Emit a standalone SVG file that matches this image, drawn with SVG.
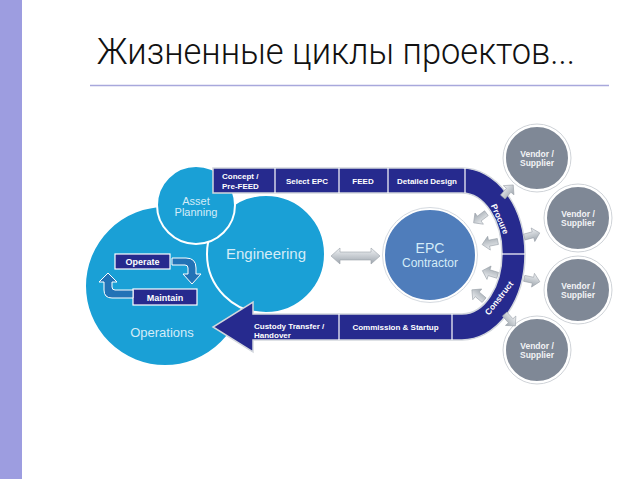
<svg xmlns="http://www.w3.org/2000/svg" width="638" height="479" viewBox="0 0 638 479">
<defs>
<style>
.lbl{font-family:"Liberation Sans",Arial,sans-serif;font-weight:bold;font-size:8px;fill:#ffffff}
.big{font-size:9px}
.arc{font-size:8.5px}
.ctxt{font-family:"Liberation Sans",Arial,sans-serif;fill:#d4ecf8;text-anchor:middle}
.vtxt{font-family:"Liberation Sans",Arial,sans-serif;font-weight:bold;font-size:8.5px;fill:#f2f3f5;text-anchor:middle}
.cyan{fill:#1aa0d6;stroke:#ffffff;stroke-width:2}
.vend{fill:#7f8896;stroke:#ffffff;stroke-width:2}
.vring{fill:none;stroke:#cfd3d8;stroke-width:1}
.div{stroke:#ffffff;stroke-width:1.2}
.box{fill:#262a8e;stroke:#ffffff;stroke-width:1.2}
.barrow{fill:#2272b6;stroke:#ffffff;stroke-width:1}
.sarrow{fill:url(#gg);stroke:#9aa1a9;stroke-width:0.6}
</style>
<linearGradient id="gg" x1="0" y1="0" x2="0" y2="1">
<stop offset="0" stop-color="#f1f3f5"/>
<stop offset="1" stop-color="#9ea6ae"/>
</linearGradient>
<path id="sa" d="M -8,-3 L 1,-3 L 1,-7 L 8,0 L 1,7 L 1,3 L -8,3 Z"/>
</defs>
<rect x="0" y="0" width="638" height="479" fill="#ffffff"/>
<rect x="0" y="0" width="22" height="479" fill="#9d9de0"/>
<text x="97" y="64" font-family="Roboto,'Liberation Sans',sans-serif" font-weight="300" font-size="37" fill="#111111" textLength="478" lengthAdjust="spacingAndGlyphs">Жизненные циклы проектов...</text>
<line x1="90" y1="85.5" x2="609" y2="85.5" stroke="#a8a8dc" stroke-width="1.5"/>

<g id="operations">
<circle class="cyan" cx="165" cy="286" r="80"/>
<text class="ctxt" x="162" y="337" font-size="13">Operations</text>
</g>
<g id="engineering">
<circle class="cyan" cx="266" cy="254" r="59"/>
<text class="ctxt" x="266" y="259" font-size="15">Engineering</text>
</g>
<g id="asset-planning">
<circle class="cyan" cx="196" cy="205" r="39"/>
<text class="ctxt" x="196" y="205" font-size="11">Asset</text>
<text class="ctxt" x="196" y="216" font-size="11">Planning</text>
</g>
<g id="operate">
<rect class="box" x="115" y="254" width="55" height="15"/>
<text class="lbl big" x="142.5" y="265" text-anchor="middle">Operate</text>
</g>
<g id="maintain">
<rect class="box" x="133" y="289" width="64" height="16"/>
<text class="lbl big" x="165" y="300.5" text-anchor="middle">Maintain</text>
</g>
<g id="epc-contractor">
<circle cx="430" cy="255" r="46" fill="#4f7dbb" stroke="#ffffff" stroke-width="2"/>
<circle cx="430" cy="255" r="47.5" fill="none" stroke="#d5dae0" stroke-width="1"/>
<text class="ctxt" x="430" y="253" font-size="14">EPC</text>
<text class="ctxt" x="430" y="267" font-size="12">Contractor</text>
</g>

<g id="lifecycle-band">
<path d="M 213,168 L 462,168 A 63,86 0 0 1 462,340 L 253,340 L 253,352 L 213,327 L 253,302 L 253,314 L 462,314 A 40,60.5 0 0 0 462,193 L 213,193 Z" fill="#262a8e" stroke="#d3d7dd" stroke-width="1.5"/>
<line class="div" x1="275" y1="168" x2="275" y2="193"/>
<line class="div" x1="339" y1="168" x2="339" y2="193"/>
<line class="div" x1="388" y1="168" x2="388" y2="193"/>
<line class="div" x1="465" y1="168" x2="465" y2="193"/>
<line class="div" x1="339" y1="314" x2="339" y2="340"/>
<line class="div" x1="452" y1="314" x2="452" y2="340"/>
<line class="div" x1="502" y1="254" x2="525" y2="254"/>
<text class="lbl" x="222" y="179">Concept /</text>
<text class="lbl" x="222" y="188.5">Pre-FEED</text>
<text class="lbl" x="307" y="183.5" text-anchor="middle">Select EPC</text>
<text class="lbl" x="363" y="183.5" text-anchor="middle">FEED</text>
<text class="lbl" x="427" y="183.5" text-anchor="middle">Detailed Design</text>
<text class="lbl" x="254" y="328.5">Custody Transfer /</text>
<text class="lbl" x="254" y="337.5">Handover</text>
<text class="lbl" x="395.5" y="330" text-anchor="middle">Commission &amp; Startup</text>
<text class="lbl arc" x="0" y="0" text-anchor="middle" transform="translate(500,219) rotate(66)" dy="3">Procure</text>
<text class="lbl arc" x="0" y="0" text-anchor="middle" transform="translate(499,298) rotate(-52)" dy="3">Construct</text>
</g>

<g id="vendor-1">
<circle class="vring" cx="537" cy="158" r="34"/>
<circle class="vend" cx="537" cy="158" r="32"/>
<text class="vtxt" x="537" y="157">Vendor /</text>
<text class="vtxt" x="537" y="166">Supplier</text>
</g>
<g id="vendor-2">
<circle class="vring" cx="578" cy="218" r="34"/>
<circle class="vend" cx="578" cy="218" r="32"/>
<text class="vtxt" x="578" y="217">Vendor /</text>
<text class="vtxt" x="578" y="226">Supplier</text>
</g>
<g id="vendor-3">
<circle class="vring" cx="578" cy="290" r="34"/>
<circle class="vend" cx="578" cy="290" r="32"/>
<text class="vtxt" x="578" y="289">Vendor /</text>
<text class="vtxt" x="578" y="298">Supplier</text>
</g>
<g id="vendor-4">
<circle class="vring" cx="537" cy="350" r="34"/>
<circle class="vend" cx="537" cy="350" r="32"/>
<text class="vtxt" x="537" y="349">Vendor /</text>
<text class="vtxt" x="537" y="358">Supplier</text>
</g>

<g id="connectors">
<path class="barrow" d="M 172,258 L 186,258 Q 196,258 196,268 L 196,274 L 201,274 L 192,284 L 183,274 L 188,274 L 188,268 Q 188,265 185,265 L 172,265 Z"/>
<path class="barrow" d="M 133,290 L 115,290 Q 112,290 112,287 L 112,282 L 117,282 L 108,273 L 99,282 L 104,282 L 104,290 Q 104,298 112,298 L 133,298 Z"/>
<path class="sarrow" d="M 331,256 L 340,248 L 340,252 L 371,252 L 371,248 L 380,256 L 371,264 L 371,260 L 340,260 L 340,264 Z"/>
<use href="#sa" class="sarrow" transform="translate(480,218) rotate(143)"/>
<use href="#sa" class="sarrow" transform="translate(490,243) rotate(169)"/>
<use href="#sa" class="sarrow" transform="translate(490,273) rotate(197)"/>
<use href="#sa" class="sarrow" transform="translate(478,295) rotate(220)"/>
<use href="#sa" class="sarrow" transform="translate(508,191) rotate(-49)"/>
<use href="#sa" class="sarrow" transform="translate(532,235) rotate(-15)"/>
<use href="#sa" class="sarrow" transform="translate(532,280) rotate(12)"/>
<use href="#sa" class="sarrow" transform="translate(510,320) rotate(48)"/>
</g>
</svg>
